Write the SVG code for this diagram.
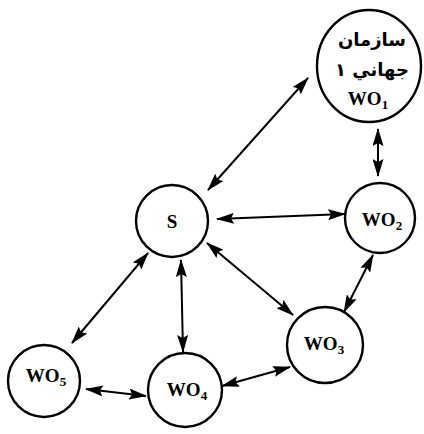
<svg xmlns="http://www.w3.org/2000/svg" width="424" height="434" viewBox="0 0 424 434">
<style>
.n{fill:#fff;stroke:#000;stroke-width:2.4}
.t{font-family:"Liberation Serif","Times New Roman",serif;font-weight:bold;font-size:19px;fill:#000;text-anchor:middle}
.ar{font-family:"DejaVu Sans",sans-serif;font-weight:bold;font-size:18px;fill:#000;text-anchor:middle}
.c line{stroke:#000;stroke-width:2;marker-start:url(#a);marker-end:url(#a)}
</style>
<defs>
<marker id="a" viewBox="0 0 18 11" refX="17" refY="5.5" markerWidth="18" markerHeight="11" markerUnits="userSpaceOnUse" orient="auto-start-reverse">
<path d="M0,0 L18,5.5 L0,11 L3,5.5 Z" fill="#000"/>
</marker>
</defs>
<rect width="424" height="434" fill="#fff"/>
<g class="c" id="connectors">
<line x1="208" y1="190" x2="308" y2="78"/>
<line x1="378" y1="129" x2="378" y2="176"/>
<line x1="217" y1="219" x2="345" y2="214"/>
<line x1="207" y1="243" x2="293" y2="315"/>
<line x1="148" y1="253" x2="72" y2="343"/>
<line x1="181" y1="260" x2="183" y2="352"/>
<line x1="373" y1="255" x2="344" y2="312"/>
<line x1="290" y1="367" x2="222" y2="386"/>
<line x1="86" y1="389" x2="146" y2="396"/>
</g>
<g id="wo1">
<ellipse class="n" cx="369" cy="66" rx="52" ry="56"/>
<text class="ar" x="372" y="46">سازمان</text>
<text class="ar" x="372" y="76">جهاني ١</text>
<text class="t" x="368" y="105">WO<tspan font-size="13" dy="4">1</tspan></text>
</g>
<g id="s">
<circle class="n" cx="172" cy="221" r="36"/>
<text class="t" x="172" y="228">S</text>
</g>
<g id="wo2">
<circle class="n" cx="380" cy="218" r="35"/>
<text class="t" x="382" y="226">WO<tspan font-size="13" dy="4">2</tspan></text>
</g>
<g id="wo3">
<circle class="n" cx="325" cy="345" r="38"/>
<text class="t" x="324" y="350">WO<tspan font-size="13" dy="4">3</tspan></text>
</g>
<g id="wo4">
<circle class="n" cx="185" cy="390" r="37"/>
<text class="t" x="187" y="396">WO<tspan font-size="13" dy="4">4</tspan></text>
</g>
<g id="wo5">
<circle class="n" cx="44" cy="381" r="36"/>
<text class="t" x="46" y="382">WO<tspan font-size="13" dy="4">5</tspan></text>
</g>
</svg>
